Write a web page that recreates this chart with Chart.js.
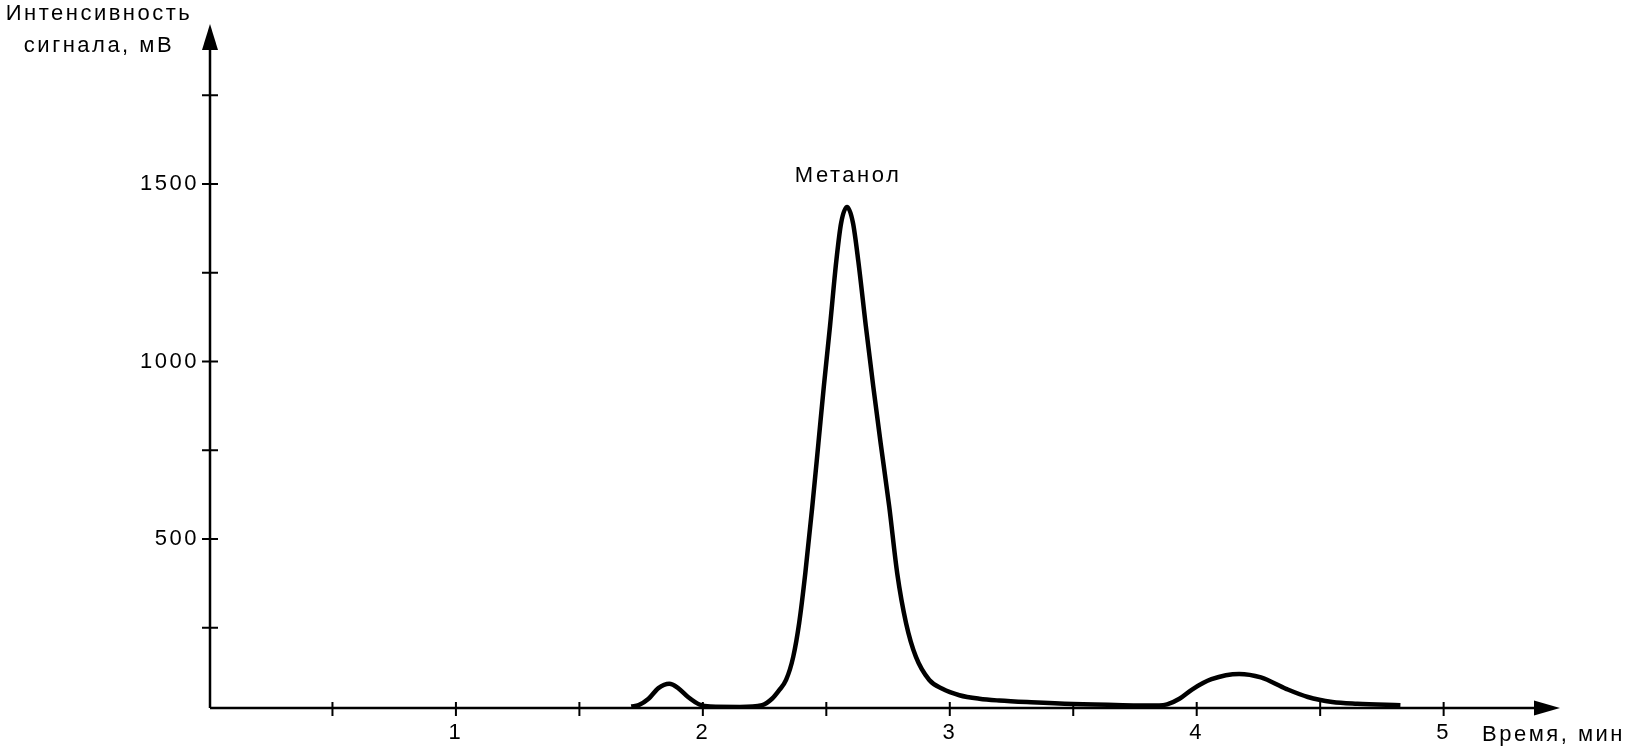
<!DOCTYPE html>
<html>
<head>
<meta charset="utf-8">
<script src="https://cdn.jsdelivr.net/npm/chart.js@4/dist/chart.umd.min.js"></script>
<style>
  html, body { margin: 0; padding: 0; background: #fff; }
  #wrap { width: 1630px; height: 752px; }
</style>
</head>
<body>
<div id="wrap"><canvas id="chart" width="1630" height="752"></canvas></div>
<script>
// retention time, min
const times = [1.71, 1.74, 1.78, 1.82, 1.864, 1.90, 1.94, 1.986, 2.03, 2.15, 2.24, 2.28, 2.31, 2.337, 2.366, 2.39,
  2.415, 2.443, 2.468, 2.49, 2.515, 2.54, 2.56, 2.584, 2.608, 2.63, 2.66, 2.69, 2.72, 2.755, 2.787, 2.823, 2.863,
  2.917, 2.97, 3.039, 3.12, 3.2, 3.33, 3.5, 3.7, 3.848, 3.88, 3.93, 3.981, 4.06, 4.172, 4.26, 4.362, 4.45, 4.549,
  4.65, 4.825];
// signal, mV
const signal = [28, 32, 50, 80, 92, 80, 55, 34, 28, 27, 32, 50, 75, 103, 168, 263,
  404, 590, 770, 930, 1100, 1280, 1390, 1435, 1390, 1280, 1100, 930, 770, 590, 404, 263, 168,
  103, 78, 60, 50, 45, 40, 35, 32, 31, 34, 50, 76, 105, 120, 110, 78, 55, 41,
  36, 32];
const yTicks = [250, 500, 750, 1000, 1250, 1500, 1750];
const xTicks = [0.5, 1, 1.5, 2, 2.5, 3, 3.5, 4, 4.5, 5];
const peakName = 'Метанол';
const yTitle = ['Интенсивность', 'сигнала, мВ'];
const xTitle = 'Время, мин';

const FONT = '"Liberation Sans", Arial, sans-serif';

const spacing = {
  id: 'spacing',
  beforeUpdate(chart) { chart.ctx.letterSpacing = '2.5px'; },
  beforeDraw(chart) { chart.ctx.letterSpacing = '2.5px'; }
};

const axesDraw = {
  id: 'axesDraw',
  afterDraw(chart) {
    const ctx = chart.ctx;
    const a = chart.chartArea;
    const xs = chart.scales.x, ys = chart.scales.y;
    ctx.save();
    ctx.strokeStyle = '#000';
    ctx.fillStyle = '#000';
    ctx.lineWidth = 2.5;
    const x0 = a.left + 1, y0 = a.bottom;
    ctx.beginPath();
    ctx.moveTo(x0, y0); ctx.lineTo(x0, a.top);
    ctx.moveTo(x0, y0); ctx.lineTo(a.right, y0);
    ctx.stroke();
    // arrows
    ctx.beginPath();
    ctx.moveTo(x0, a.top - 25); ctx.lineTo(x0 - 8, a.top + 1); ctx.lineTo(x0 + 8, a.top + 1); ctx.closePath();
    ctx.fill();
    ctx.beginPath();
    ctx.moveTo(a.right + 25, y0); ctx.lineTo(a.right - 1, y0 - 7.5); ctx.lineTo(a.right - 1, y0 + 7.5); ctx.closePath();
    ctx.fill();
    // crossing tick marks
    ctx.lineWidth = 2;
    ctx.beginPath();
    yTicks.forEach(v => {
      const p = ys.getPixelForValue(v);
      ctx.moveTo(x0 - 8, p); ctx.lineTo(x0 + 8, p);
    });
    xTicks.forEach(v => {
      const p = xs.getPixelForValue(v);
      ctx.moveTo(p, y0 - 6); ctx.lineTo(p, y0 + 8);
    });
    ctx.stroke();
    // texts
    ctx.letterSpacing = '2.5px';
    ctx.font = '22px ' + FONT;
    ctx.textBaseline = 'middle';
    ctx.textAlign = 'center';
    ctx.fillText(yTitle[0], 99, 14);
    ctx.fillText(yTitle[1], 99, 46);
    ctx.textAlign = 'left';
    ctx.fillText(xTitle, 1482, 735);
    // peak label
    const meta = chart.getDatasetMeta(0);
    let top = meta.data[0];
    meta.data.forEach(pt => { if (pt.y < top.y) top = pt; });
    ctx.textAlign = 'center';
    ctx.fillText(peakName, top.x + 1, top.y - 31);
    ctx.restore();
  }
};

const canvas = document.getElementById('chart');
const config = {
  type: 'line',
  data: {
    datasets: [{
      data: times.map((t, i) => ({ x: t, y: signal[i] })),
      borderColor: '#000',
      borderWidth: 4.5,
      pointRadius: 0,
      cubicInterpolationMode: 'monotone',
      fill: false
    }]
  },
  options: {
    responsive: false,
    animation: false,
    layout: { padding: { top: 49, right: 95, left: 0, bottom: 0 } },
    plugins: { legend: { display: false }, tooltip: { enabled: false } },
    scales: {
      x: {
        type: 'linear',
        min: 0,
        max: 5.37,
        grid: { display: false, drawTicks: false },
        border: { display: false },
        afterBuildTicks: s => { s.ticks = xTicks.map(v => ({ value: v })); },
        afterFit: s => { s.height = 44; },
        ticks: {
          color: '#000',
          padding: 12,
          maxRotation: 0,
          autoSkip: false,
          font: { size: 22, family: FONT },
          callback: v => (Number.isInteger(v) ? String(v) : '')
        }
      },
      y: {
        type: 'linear',
        min: 24,
        max: 1880,
        grid: { display: false, drawTicks: false },
        border: { display: false },
        afterBuildTicks: s => { s.ticks = yTicks.map(v => ({ value: v })); },
        afterFit: s => { s.width = 209; },
        ticks: {
          color: '#000',
          padding: 10,
          autoSkip: false,
          font: { size: 22, family: FONT },
          callback: v => (v % 500 === 0 ? String(v) : '')
        }
      }
    }
  },
  plugins: [spacing, axesDraw]
};
const chart = new Chart(canvas, config);
</script>
</body>
</html>
